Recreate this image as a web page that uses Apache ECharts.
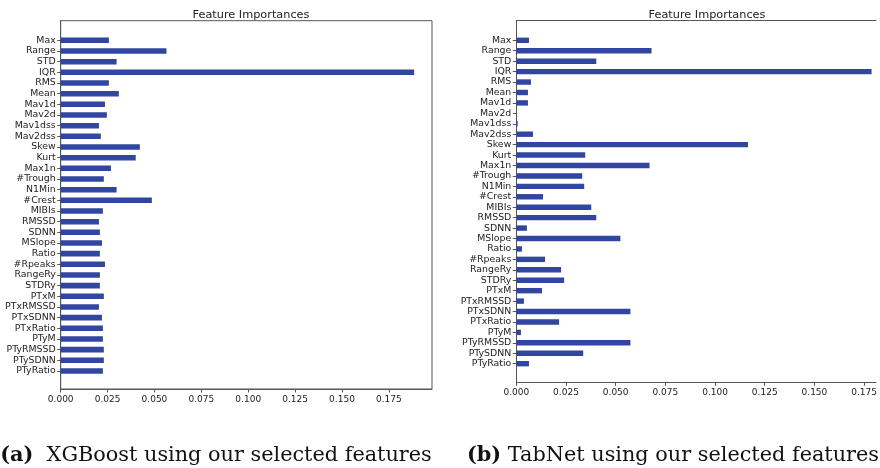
<!DOCTYPE html>
<html>
<head>
<meta charset="utf-8">
<script src="https://cdn.jsdelivr.net/npm/echarts@6/dist/echarts.min.js"></script>
<style>
  html, body { margin: 0; padding: 0; background: #fff; }
  #chart { width: 880px; height: 468px; }
</style>
</head>
<body>
<div id="chart"></div>
<script>
// feature names, top to bottom
var features = ['Max', 'Range', 'STD', 'IQR', 'RMS', 'Mean', 'Mav1d', 'Mav2d', 'Mav1dss', 'Mav2dss',
  'Skew', 'Kurt', 'Max1n', '#Trough', 'N1Min', '#Crest', 'MIBIs', 'RMSSD', 'SDNN', 'MSlope', 'Ratio',
  '#Rpeaks', 'RangeRy', 'STDRy', 'PTxM', 'PTxRMSSD', 'PTxSDNN', 'PTxRatio', 'PTyM', 'PTyRMSSD',
  'PTySDNN', 'PTyRatio'];

// (a) XGBoost importances
var xgboostValues = [0.0257, 0.0564, 0.0298, 0.1885, 0.0257, 0.0310, 0.0236, 0.0246, 0.0204, 0.0214,
  0.0422, 0.0400, 0.0268, 0.0230, 0.0298, 0.0486, 0.0225, 0.0204, 0.0209, 0.0220, 0.0209,
  0.0236, 0.0209, 0.0209, 0.0230, 0.0204, 0.0220, 0.0225, 0.0225, 0.0230, 0.0230, 0.0225];

// (b) TabNet importances
var tabnetValues = [0.0063, 0.0673, 0.0398, 0.1768, 0.0073, 0.0058, 0.0058, 0.0, 0.0007, 0.0083,
  0.1153, 0.0343, 0.0663, 0.0328, 0.0338, 0.0133, 0.0373, 0.0398, 0.0053, 0.0518, 0.0028,
  0.0143, 0.0223, 0.0238, 0.0128, 0.0038, 0.0568, 0.0213, 0.0023, 0.0568, 0.0333, 0.0063];

var xTicks = [0, 0.025, 0.05, 0.075, 0.1, 0.125, 0.15, 0.175];

var barColor = '#3146a0';
var spine = '#555';
var font = 'DejaVu Sans';

var myChart = echarts.init(document.getElementById('chart'));

// outer grid draws the spines + x ticks, inner grid holds the categories
function frameAxes(gridIndex, max) {
  return {
    x: {
      type: 'value', gridIndex: gridIndex, min: 0, max: max,
      splitLine: { show: false },
      axisLine: { show: true, lineStyle: { color: spine, width: 1 } },
      axisTick: { show: true, length: 3.5, lineStyle: { color: spine }, customValues: xTicks },
      axisLabel: {
        fontFamily: font, fontSize: 9, color: '#222', margin: 6, customValues: xTicks,
        formatter: function (v) { return v.toFixed(3); }
      }
    },
    top: {
      type: 'value', gridIndex: gridIndex, position: 'top', min: 0, max: max,
      splitLine: { show: false }, axisTick: { show: false }, axisLabel: { show: false },
      axisLine: { show: true, lineStyle: { color: spine, width: 1 } }
    },
    y: {
      type: 'value', gridIndex: gridIndex, min: 0, max: 1,
      splitLine: { show: false }, axisTick: { show: false }, axisLabel: { show: false },
      axisLine: { show: true, lineStyle: { color: spine, width: 1 } }
    }
  };
}

function innerAxes(gridIndex, max) {
  return {
    x: { type: 'value', gridIndex: gridIndex, min: 0, max: max, show: false },
    y: {
      type: 'category', gridIndex: gridIndex, data: features, inverse: true,
      axisLine: { show: false },
      axisTick: { show: true, alignWithLabel: true, length: 3.5, lineStyle: { color: spine } },
      axisLabel: { fontFamily: font, fontSize: 9.4, color: '#222', margin: 5, interval: 0 }
    }
  };
}

// right panel is cut off by the image edge, so its range stops at the edge
var a0 = frameAxes(0, 0.198), a1 = innerAxes(1, 0.198);
var b0 = frameAxes(2, 0.1810), b1 = innerAxes(3, 0.1810);

var captionStyle = {
  fontFamily: 'DejaVu Serif', fontSize: 20.8, fontWeight: 'normal', color: '#111',
  rich: { b: { fontFamily: 'DejaVu Serif', fontSize: 20.8, fontWeight: 'bold', color: '#111' } }
};

myChart.setOption({
  animation: false,
  backgroundColor: '#fff',
  title: [
    { text: 'Feature Importances', left: 246, top: 5, textAlign: 'center',
      textStyle: { fontFamily: font, fontSize: 11.3, fontWeight: 'normal', color: '#222' } },
    { text: 'Feature Importances', left: 702, top: 5, textAlign: 'center',
      textStyle: { fontFamily: font, fontSize: 11.3, fontWeight: 'normal', color: '#222' } },
    { text: '{b|(a)}  XGBoost using our selected features', left: 211, top: 440, textAlign: 'center',
      textStyle: captionStyle },
    { text: '{b|(b)} TabNet using our selected features', left: 668, top: 440, textAlign: 'center',
      textStyle: captionStyle }
  ],
  grid: [
    { left: 60.7, width: 371.3, top: 20.7, bottom: 79, show: true, borderColor: spine, borderWidth: 1 },
    { left: 60.7, width: 371.3, top: 35, bottom: 91.7 },
    { left: 516.3, right: 0, top: 20.7, bottom: 85.7 },
    { left: 516.3, right: 0, top: 35.1, bottom: 99.1 }
  ],
  xAxis: [a0.x, a1.x, b0.x, b1.x, b0.top],
  yAxis: [a0.y, a1.y, b0.y, b1.y],
  series: [
    { type: 'bar', xAxisIndex: 1, yAxisIndex: 1, data: xgboostValues, barWidth: '52%',
      itemStyle: { color: barColor } },
    { type: 'bar', xAxisIndex: 3, yAxisIndex: 3, data: tabnetValues, barWidth: '52%',
      itemStyle: { color: barColor } }
  ]
});
</script>
</body>
</html>
